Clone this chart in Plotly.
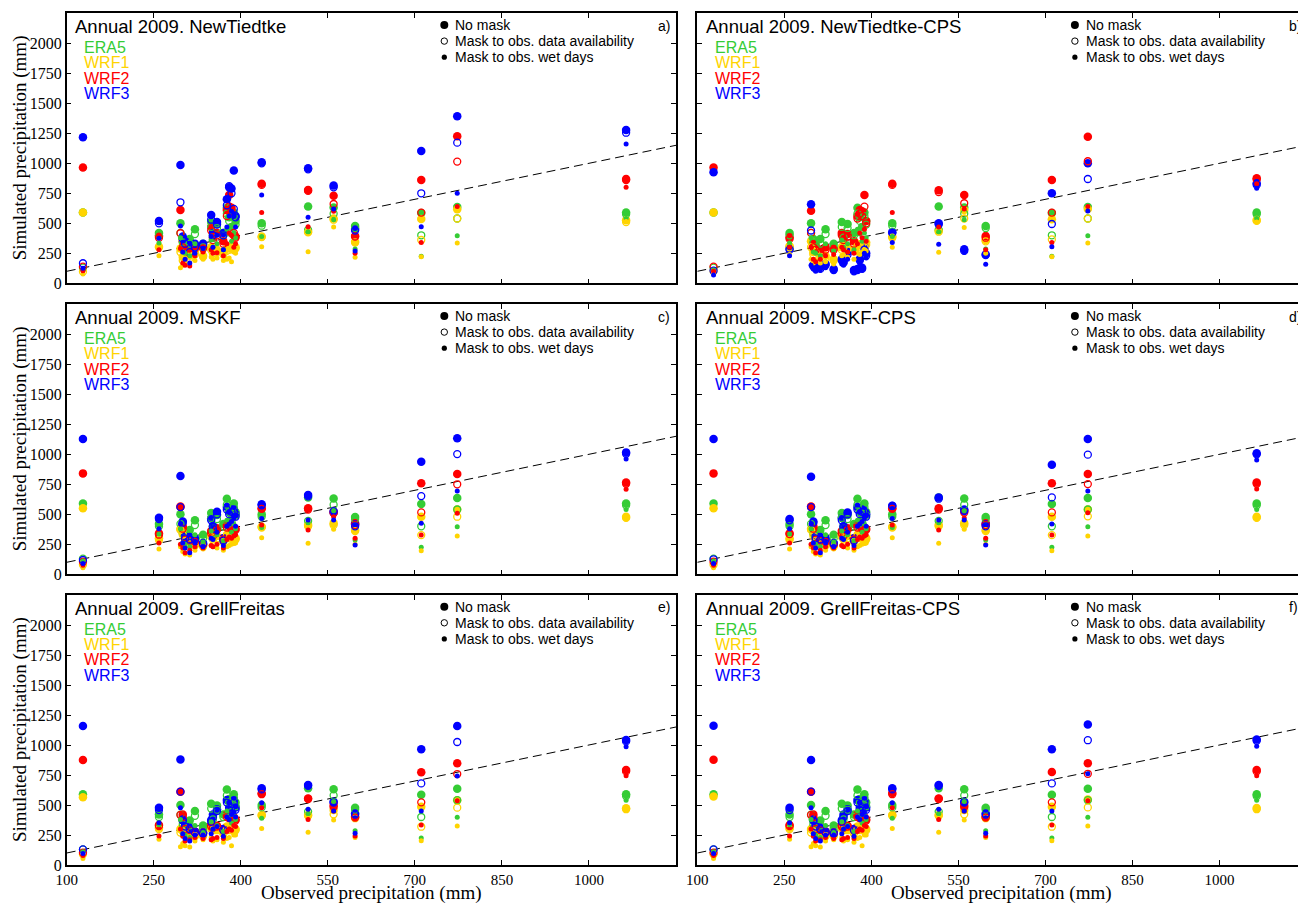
import plotly.graph_objects as go

# ---------------------------------------------------------------------------
# Observed annual precipitation at each station (mm)
OBS = [128, 259, 296, 300, 304, 312, 321, 335, 349, 352, 359, 370,
       376, 380, 384, 388, 391, 436, 516, 560, 597, 711, 773, 1064]

# ERA5 is the same driving data in every panel
ERA5_NM = [590, 420, 500, 370, 330, 370, 450, 330, 510, 400, 495, 420, 630, 550, 470, 590, 520, 500, 640, 632, 478, 585, 635, 590]
ERA5_OA = [130, 400, 420, 340, 300, 330, 410, 300, 470, 380, 460, 400, 580, 520, 440, 560, 490, 480, 445, 580, 460, 400, 540, 575]
ERA5_WD = [110, 335, 380, 260, 250, 230, 330, 270, 360, 300, 330, 280, 450, 410, 350, 420, 380, 390, 430, 530, 285, 225, 397, 540]

# NewTiedtke
NT_WRF1_NM = [590, 305, 290, 220, 250, 230, 260, 230, 300, 270, 280, 260, 290, 300, 300, 280, 300, 390, 430, 540, 347, 536, 617, 525]
NT_WRF1_OA = [97, 300, 260, 190, 230, 210, 240, 220, 280, 250, 260, 240, 270, 280, 290, 300, 290, 385, 425, 530, 340, 361, 539, 510]
NT_WRF1_WD = [78, 230, 130, 150, 180, 160, 190, 200, 220, 200, 210, 190, 200, 210, 180, 260, 250, 305, 263, 470, 217, 222, 336, 515]
NT_WRF2_NM = [965, 395, 611, 350, 300, 290, 310, 300, 470, 380, 420, 350, 610, 736, 630, 400, 390, 830, 778, 730, 394, 861, 1225, 869]
NT_WRF2_OA = [139, 380, 417, 300, 280, 250, 290, 290, 440, 360, 400, 330, 560, 640, 600, 420, 380, 820, 770, 661, 390, 589, 1014, 860]
NT_WRF2_WD = [104, 280, 290, 170, 150, 145, 230, 260, 280, 250, 255, 230, 330, 420, 400, 300, 330, 590, 472, 600, 250, 341, 639, 800]
NT_WRF3_NM = [1217, 519, 986, 390, 350, 320, 330, 330, 570, 420, 510, 420, 700, 800, 790, 940, 560, 1008, 958, 814, 453, 1103, 1392, 1278]
NT_WRF3_OA = [167, 500, 675, 370, 330, 260, 300, 320, 530, 400, 490, 400, 650, 810, 750, 620, 550, 1000, 950, 800, 440, 750, 1172, 1255]
NT_WRF3_WD = [125, 375, 478, 260, 200, 170, 250, 290, 390, 300, 400, 280, 470, 560, 600, 580, 470, 735, 550, 620, 270, 472, 750, 1161]

# NewTiedtke-CPS
NTC_WRF1_NM = [591, 311, 350, 260, 280, 240, 230, 200, 300, 320, 290, 280, 330, 320, 330, 310, 340, 389, 439, 611, 361, 533, 620, 528]
NTC_WRF1_OA = [100, 300, 300, 240, 260, 220, 210, 190, 280, 300, 280, 270, 310, 300, 320, 300, 320, 380, 430, 540, 350, 366, 539, 520]
NTC_WRF1_WD = [80, 240, 200, 170, 190, 170, 180, 160, 230, 240, 220, 200, 250, 240, 260, 280, 270, 300, 258, 466, 250, 222, 336, 510]
NTC_WRF2_NM = [964, 383, 605, 330, 300, 280, 300, 290, 420, 380, 410, 350, 560, 610, 600, 736, 520, 830, 775, 736, 394, 861, 1222, 875]
NTC_WRF2_OA = [139, 370, 420, 300, 280, 260, 280, 280, 400, 360, 390, 330, 540, 580, 560, 639, 500, 820, 760, 667, 380, 589, 1017, 865]
NTC_WRF2_WD = [100, 300, 300, 200, 180, 200, 230, 240, 300, 280, 260, 250, 330, 420, 380, 450, 350, 591, 470, 620, 280, 341, 639, 830]
NTC_WRF3_NM = [925, 291, 658, 150, 130, 140, 160, 120, 200, 180, 260, 110, 120, 200, 130, 300, 250, 425, 500, 283, 240, 750, 1000, 833]
NTC_WRF3_OA = [105, 280, 440, 140, 120, 120, 150, 110, 190, 170, 240, 100, 110, 190, 120, 280, 230, 420, 490, 270, 236, 494, 869, 820]
NTC_WRF3_WD = [70, 230, 150, 120, 100, 110, 130, 100, 160, 150, 200, 90, 100, 160, 110, 250, 210, 341, 325, 258, 158, 305, 603, 792]

# MSKF
MS_WRF1_NM = [550, 300, 380, 350, 300, 270, 250, 240, 330, 300, 320, 280, 330, 320, 310, 280, 300, 397, 411, 425, 369, 480, 541, 480]
MS_WRF1_OA = [80, 286, 370, 330, 280, 250, 240, 230, 310, 290, 300, 270, 320, 300, 300, 270, 290, 390, 400, 410, 360, 327, 480, 470]
MS_WRF1_WD = [55, 211, 230, 190, 170, 160, 200, 210, 240, 230, 220, 200, 230, 240, 250, 260, 260, 305, 258, 375, 250, 197, 319, 460]
MS_WRF2_NM = [841, 341, 565, 400, 310, 290, 280, 250, 360, 330, 383, 300, 410, 420, 390, 370, 380, 550, 550, 522, 425, 758, 836, 764]
MS_WRF2_OA = [105, 330, 560, 380, 290, 280, 270, 245, 340, 320, 370, 290, 390, 400, 380, 360, 370, 545, 540, 510, 410, 516, 750, 755]
MS_WRF2_WD = [75, 260, 250, 220, 180, 200, 230, 220, 240, 230, 250, 220, 290, 310, 300, 320, 330, 411, 369, 480, 300, 327, 508, 708]
MS_WRF3_NM = [1127, 472, 819, 440, 320, 310, 300, 260, 466, 400, 522, 300, 560, 520, 540, 540, 500, 583, 661, 515, 416, 938, 1133, 1016]
MS_WRF3_OA = [119, 460, 560, 430, 300, 290, 290, 255, 450, 380, 500, 280, 540, 500, 520, 520, 480, 575, 650, 527, 400, 652, 1002, 1005]
MS_WRF3_WD = [90, 380, 420, 260, 220, 180, 260, 230, 300, 290, 350, 240, 400, 420, 440, 470, 400, 466, 452, 452, 244, 425, 694, 961]

# MSKF-CPS
MSC_WRF1_NM = [550, 300, 380, 340, 300, 270, 250, 240, 330, 300, 320, 280, 330, 320, 310, 280, 300, 397, 411, 425, 369, 480, 541, 480]
MSC_WRF1_OA = [80, 286, 370, 320, 280, 250, 240, 230, 310, 290, 300, 270, 320, 300, 300, 270, 290, 390, 400, 410, 360, 327, 483, 470]
MSC_WRF1_WD = [55, 211, 230, 190, 170, 160, 200, 210, 240, 230, 220, 200, 230, 240, 250, 260, 260, 305, 258, 375, 250, 197, 319, 460]
MSC_WRF2_NM = [841, 341, 565, 400, 310, 290, 280, 250, 360, 330, 383, 300, 410, 420, 390, 370, 380, 550, 550, 530, 425, 758, 836, 764]
MSC_WRF2_OA = [105, 335, 560, 380, 290, 280, 270, 245, 340, 320, 370, 290, 390, 400, 380, 360, 370, 545, 540, 515, 410, 516, 752, 755]
MSC_WRF2_WD = [75, 260, 250, 220, 180, 200, 230, 220, 240, 230, 250, 220, 290, 310, 300, 320, 330, 411, 369, 470, 300, 327, 513, 711]
MSC_WRF3_NM = [1127, 461, 813, 440, 320, 310, 300, 260, 470, 400, 515, 300, 560, 520, 540, 530, 500, 572, 641, 540, 416, 913, 1127, 1008]
MSC_WRF3_OA = [125, 450, 560, 430, 300, 290, 290, 255, 450, 380, 500, 280, 540, 500, 520, 520, 480, 570, 630, 527, 400, 641, 997, 1000]
MSC_WRF3_WD = [90, 380, 420, 260, 220, 180, 260, 230, 300, 290, 350, 240, 400, 420, 440, 470, 400, 466, 452, 452, 244, 419, 694, 952]

# GrellFreitas
GF_WRF1_NM = [564, 311, 300, 300, 280, 260, 250, 250, 310, 300, 300, 270, 320, 300, 310, 290, 300, 417, 417, 458, 400, 486, 540, 472]
GF_WRF1_OA = [90, 300, 270, 280, 260, 240, 240, 240, 300, 290, 290, 260, 300, 290, 300, 280, 290, 410, 410, 422, 390, 319, 478, 465]
GF_WRF1_WD = [55, 214, 153, 180, 160, 150, 200, 210, 230, 200, 210, 190, 220, 230, 160, 250, 250, 305, 272, 375, 230, 203, 325, 455]
GF_WRF2_NM = [875, 333, 611, 420, 320, 300, 280, 270, 330, 320, 328, 300, 420, 400, 390, 400, 380, 597, 555, 486, 403, 772, 847, 792]
GF_WRF2_OA = [103, 325, 417, 400, 300, 290, 270, 260, 320, 310, 320, 290, 400, 390, 380, 390, 370, 590, 550, 500, 395, 522, 758, 780]
GF_WRF2_WD = [80, 242, 300, 240, 200, 210, 230, 220, 210, 220, 230, 220, 280, 300, 290, 330, 320, 478, 380, 450, 242, 333, 536, 744]
GF_WRF3_NM = [1158, 478, 880, 380, 330, 310, 280, 270, 375, 420, 464, 300, 542, 478, 500, 540, 480, 639, 667, 528, 430, 964, 1158, 1042]
GF_WRF3_OA = [130, 458, 611, 370, 320, 300, 270, 260, 360, 400, 450, 290, 520, 460, 480, 520, 460, 630, 660, 520, 420, 680, 1025, 1030]
GF_WRF3_WD = [95, 353, 478, 260, 220, 200, 250, 250, 260, 300, 320, 240, 400, 380, 420, 440, 400, 519, 464, 450, 264, 450, 742, 986]

# GrellFreitas-CPS
GFC_WRF1_NM = [570, 311, 300, 300, 280, 260, 250, 250, 310, 300, 300, 270, 320, 300, 310, 290, 300, 417, 417, 458, 400, 486, 545, 475]
GFC_WRF1_OA = [90, 300, 270, 280, 260, 240, 240, 240, 300, 290, 290, 260, 300, 290, 300, 280, 290, 410, 410, 422, 390, 319, 480, 465]
GFC_WRF1_WD = [55, 214, 153, 180, 160, 150, 200, 210, 230, 200, 210, 190, 220, 230, 160, 250, 250, 305, 272, 375, 230, 203, 325, 455]
GFC_WRF2_NM = [878, 333, 611, 420, 320, 300, 280, 270, 330, 320, 328, 300, 420, 400, 390, 400, 380, 600, 555, 486, 403, 775, 848, 792]
GFC_WRF2_OA = [103, 325, 417, 400, 300, 290, 270, 260, 320, 310, 320, 290, 400, 390, 380, 390, 370, 590, 550, 500, 395, 522, 760, 780]
GFC_WRF2_WD = [80, 242, 300, 240, 200, 210, 230, 220, 210, 220, 230, 220, 280, 300, 290, 330, 320, 478, 380, 450, 242, 333, 536, 744]
GFC_WRF3_NM = [1160, 478, 875, 380, 330, 310, 280, 270, 375, 420, 464, 300, 542, 478, 500, 540, 480, 639, 667, 528, 430, 965, 1170, 1045]
GFC_WRF3_OA = [130, 458, 611, 370, 320, 300, 270, 260, 360, 400, 450, 290, 520, 460, 480, 520, 460, 630, 660, 520, 420, 680, 1040, 1035]
GFC_WRF3_WD = [95, 353, 478, 260, 220, 200, 250, 250, 260, 300, 320, 240, 400, 380, 420, 440, 400, 519, 464, 450, 264, 450, 760, 990]

PANEL_TITLES = ["Annual 2009. NewTiedtke", "Annual 2009. NewTiedtke-CPS",
                "Annual 2009. MSKF", "Annual 2009. MSKF-CPS",
                "Annual 2009. GrellFreitas", "Annual 2009. GrellFreitas-CPS"]
PANEL_TAGS = ["a)", "b)", "c)", "d)", "e)", "f)"]
MODEL_NAMES = ["ERA5", "WRF1", "WRF2", "WRF3"]
MASK_NAMES = ["No mask", "Mask to obs. data availability", "Mask to obs. wet days"]
X_TICKS = [100, 250, 400, 550, 700, 850, 1000]
Y_TICKS = [0, 250, 500, 750, 1000, 1250, 1500, 1750, 2000]
X_TITLE = "Observed precipitation (mm)"
Y_TITLE = "Simulated precipitation (mm)"

# each panel: rows of [model][mask]
PANELS = [
    [[ERA5_NM, ERA5_OA, ERA5_WD], [NT_WRF1_NM, NT_WRF1_OA, NT_WRF1_WD],
     [NT_WRF2_NM, NT_WRF2_OA, NT_WRF2_WD], [NT_WRF3_NM, NT_WRF3_OA, NT_WRF3_WD]],
    [[ERA5_NM, ERA5_OA, ERA5_WD], [NTC_WRF1_NM, NTC_WRF1_OA, NTC_WRF1_WD],
     [NTC_WRF2_NM, NTC_WRF2_OA, NTC_WRF2_WD], [NTC_WRF3_NM, NTC_WRF3_OA, NTC_WRF3_WD]],
    [[ERA5_NM, ERA5_OA, ERA5_WD], [MS_WRF1_NM, MS_WRF1_OA, MS_WRF1_WD],
     [MS_WRF2_NM, MS_WRF2_OA, MS_WRF2_WD], [MS_WRF3_NM, MS_WRF3_OA, MS_WRF3_WD]],
    [[ERA5_NM, ERA5_OA, ERA5_WD], [MSC_WRF1_NM, MSC_WRF1_OA, MSC_WRF1_WD],
     [MSC_WRF2_NM, MSC_WRF2_OA, MSC_WRF2_WD], [MSC_WRF3_NM, MSC_WRF3_OA, MSC_WRF3_WD]],
    [[ERA5_NM, ERA5_OA, ERA5_WD], [GF_WRF1_NM, GF_WRF1_OA, GF_WRF1_WD],
     [GF_WRF2_NM, GF_WRF2_OA, GF_WRF2_WD], [GF_WRF3_NM, GF_WRF3_OA, GF_WRF3_WD]],
    [[ERA5_NM, ERA5_OA, ERA5_WD], [GFC_WRF1_NM, GFC_WRF1_OA, GFC_WRF1_WD],
     [GFC_WRF2_NM, GFC_WRF2_OA, GFC_WRF2_WD], [GFC_WRF3_NM, GFC_WRF3_OA, GFC_WRF3_WD]],
]

# ---------------------------------------------------------------------------
# styling / layout
W, H = 1298, 904
COLORS = ["#35cc35", "#ffd400", "#ff0000", "#0000ff"]
SANS = "Liberation Sans, Arial, sans-serif"
SERIF = "Liberation Serif, Times New Roman, serif"

COL_LEFT = [66.7, 697.3]
COL_RIGHT = [676.0, W]          # right-hand column runs off the page edge
FULL_WIDTH = 676.0 - 66.7       # width of an uncut panel (px)
ROW_TOP = [13.3, 304.3, 595.0]
ROW_BOTTOM = [283.3, 574.3, 865.0]
X_MIN, X_MAX = 100, 1150
Y_RANGE = [0, 2250]


def px(x):
    return x / W


def py(y):
    return 1 - y / H


fig = go.Figure()
annotations = []
shapes = []

for i, panel in enumerate(PANELS):
    row, col = divmod(i, 2)
    n = i + 1
    xa = "x" if n == 1 else f"x{n}"
    ya = "y" if n == 1 else f"y{n}"
    left, right = COL_LEFT[col], COL_RIGHT[col]
    top, bottom = ROW_TOP[row], ROW_BOTTOM[row]
    x_hi = X_MIN + (X_MAX - X_MIN) * (right - left) / FULL_WIDTH

    # 1:1 reference line
    fig.add_trace(go.Scatter(x=[X_MIN, X_MAX], y=[X_MIN, X_MAX], mode="lines",
                             line=dict(color="black", width=1, dash="9px,5px"),
                             xaxis=xa, yaxis=ya, showlegend=False, hoverinfo="skip"))

    for m in range(3):
        for k in range(4):
            vals = panel[k][m]
            if m == 0:
                marker = dict(symbol="circle", size=8.5, color=COLORS[k], line=dict(width=0))
            elif m == 1:
                marker = dict(symbol="circle-open", size=7, color=COLORS[k],
                              line=dict(width=1.3, color=COLORS[k]))
            else:
                marker = dict(symbol="circle", size=5, color=COLORS[k], line=dict(width=0))
            fig.add_trace(go.Scatter(x=OBS, y=vals, mode="markers", marker=marker,
                                     name=f"{MODEL_NAMES[k]} - {MASK_NAMES[m]}",
                                     xaxis=xa, yaxis=ya, showlegend=False))

    axis_common = dict(showgrid=False, zeroline=False, showline=True, linecolor="black",
                       linewidth=1.5, ticks="inside", ticklen=5, tickwidth=1,
                       tickcolor="black", automargin=False)
    xkey = "xaxis" if n == 1 else f"xaxis{n}"
    ykey = "yaxis" if n == 1 else f"yaxis{n}"
    fig.update_layout(**{
        xkey: dict(axis_common, domain=[px(left), px(right)], range=[X_MIN, x_hi],
                   anchor=ya, tickvals=X_TICKS, mirror="ticks",
                   tickfont=dict(family=SERIF, size=15, color="black"),
                   showticklabels=(row == 2)),
        ykey: dict(axis_common, domain=[py(bottom), py(top)], range=Y_RANGE,
                   anchor=xa, tickvals=Y_TICKS,
                   tickfont=dict(family=SERIF, size=16, color="black"),
                   mirror="ticks" if col == 0 else False,
                   showticklabels=(col == 0)),
    })

    # panel title
    annotations.append(dict(text=PANEL_TITLES[i], x=px(left + 6.5), y=py(top + 13),
                            xref="paper", yref="paper", xanchor="left", yanchor="middle",
                            showarrow=False, font=dict(family=SANS, size=18.5, color="black")))
    # model colour key
    for k, name in enumerate(MODEL_NAMES):
        annotations.append(dict(text=name, x=px(left + 15.5), y=py(top + 34.2 + 15.3 * k),
                                xref="paper", yref="paper", xanchor="left", yanchor="middle",
                                showarrow=False, font=dict(family=SANS, size=16, color=COLORS[k])))
    # mask symbol key
    for m, name in enumerate(MASK_NAMES):
        cy = top + 11.7 + 16.1 * m
        cx = left + 377.6
        annotations.append(dict(text=name, x=px(left + 386.5), y=py(cy),
                                xref="paper", yref="paper", xanchor="left", yanchor="middle",
                                showarrow=False, font=dict(family=SANS, size=14, color="black")))
        if m == 0:
            r = 4.0
            shapes.append(dict(type="circle", xref="paper", yref="paper",
                               x0=px(cx - r), x1=px(cx + r), y0=py(cy + r), y1=py(cy - r),
                               fillcolor="black", line=dict(width=0)))
        elif m == 1:
            r = 3.2
            shapes.append(dict(type="circle", xref="paper", yref="paper",
                               x0=px(cx - r), x1=px(cx + r), y0=py(cy + r), y1=py(cy - r),
                               fillcolor="rgba(0,0,0,0)", line=dict(width=1, color="black")))
        else:
            r = 2.6
            shapes.append(dict(type="circle", xref="paper", yref="paper",
                               x0=px(cx - r), x1=px(cx + r), y0=py(cy + r), y1=py(cy - r),
                               fillcolor="black", line=dict(width=0)))
    # panel letter
    annotations.append(dict(text=PANEL_TAGS[i], x=px(left + 589.3), y=py(top + 12.4),
                            xref="paper", yref="paper", xanchor="left", yanchor="middle",
                            showarrow=False, font=dict(family=SANS, size=14, color="black")))

    # axis titles
    if col == 0:
        annotations.append(dict(text=Y_TITLE, x=px(20), y=py((top + bottom) / 2),
                                xref="paper", yref="paper", xanchor="center", yanchor="middle",
                                textangle=-90, showarrow=False,
                                font=dict(family=SERIF, size=19, color="black")))
    if row == 2:
        annotations.append(dict(text=X_TITLE, x=px((left + left + FULL_WIDTH) / 2), y=py(892.5),
                                xref="paper", yref="paper", xanchor="center", yanchor="middle",
                                showarrow=False, font=dict(family=SERIF, size=19, color="black")))

fig.update_layout(width=W, height=H, margin=dict(l=0, r=0, t=0, b=0),
                  paper_bgcolor="white", plot_bgcolor="white", showlegend=False,
                  annotations=annotations, shapes=shapes)

fig.write_html("out.html")
